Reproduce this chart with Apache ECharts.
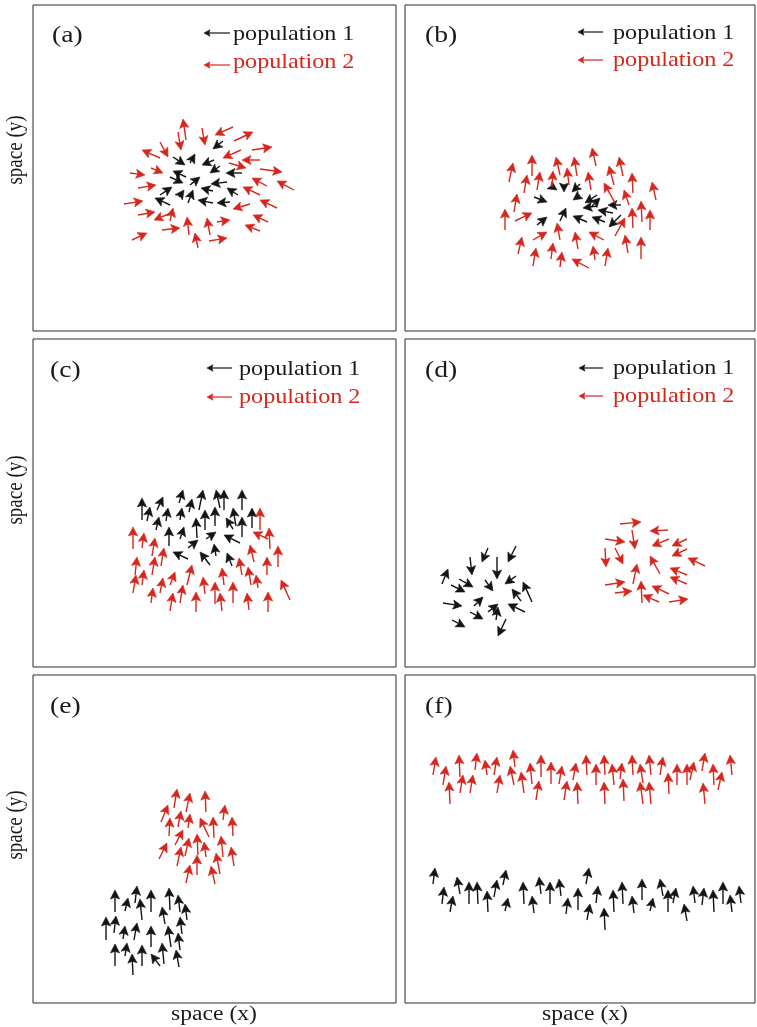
<!DOCTYPE html>
<html>
<head>
<meta charset="utf-8">
<script src="https://cdn.jsdelivr.net/npm/echarts@6/dist/echarts.min.js"></script>
<style>
  html, body { margin: 0; padding: 0; background: #ffffff; }
  #chart { width: 757px; height: 1027px; }
</style>
</head>
<body>
<div id="chart"></div>
<script>
// Each arrow: [headX, headY, dX, dY] in panel space units (y grows downward);
// the tail sits at (headX - dX, headY - dY).

const panelLabels = ['(a)', '(b)', '(c)', '(d)', '(e)', '(f)'];
const legendLabels = ['population 1', 'population 2'];
const xAxisTitle = 'space (x)';
const yAxisTitle = 'space (y)';

// (a) population 1 converging, population 2 spreading outwards
const a_pop1 = [
  [180,144,-10,8],[162,149,5,-9],[152,160,12,8],[169,160,-12,5],[140,166,-13,-6],
  [177,168,-10,7],[193,168,-16,0],[150,178,13,6],[167,172,10,-8],[178,179,-16,2],
  [139,182,12,-8],[151,185,5,-7],[160,185,5,-13],[168,183,-12,-3],[194,183,-11,-7],
  [122,193,-15,-7],[165,195,-15,-3],[184,198,-13,1]
];
const a_pop2 = [
  [150,114,-3,-21],[172,140,3,17],[182,130,-18,8],[220,127,19,-9],[148,145,3,18],
  [109,145,-18,-8],[135,152,8,15],[239,142,20,-3],[190,153,-18,8],[209,155,-18,0],
  [213,163,17,5],[249,167,22,3],[112,170,15,2],[130,168,12,5],[219,173,-15,-8],
  [244,176,-17,-9],[123,180,18,-3],[210,182,-17,-8],[110,196,19,-3],[140,203,3,-13],
  [122,207,17,-3],[121,215,-17,7],[154,212,-2,-18],[174,213,-3,-17],[200,204,-17,5],
  [220,210,-15,-7],[197,215,13,-2],[212,220,-15,-6],[147,223,18,-2],[162,228,-3,-15],
  [114,228,15,-7],[194,233,18,-3],[227,195,-17,-8]
];

// (b)
const b_pop1 = [
  [152,185,6,4],[159,187,0,6],[167,187,-8,8],[142,197,13,5],[168,195,-7,5],
  [180,198,-12,8],[161,203,6,-13],[178,203,-14,2],[195,193,8,-8],[203,200,-13,0],
  [193,205,-15,-3],[142,212,10,-8],[168,211,-14,-6],[187,212,-13,-5],[204,222,-12,12]
];
const b_pop2 = [
  [108,158,4,-19],[127,150,0,-21],[122,170,3,-18],[135,167,3,-18],[151,152,-4,-18],
  [148,166,1,-16],[162,163,-2,-17],[169,152,-3,-19],[187,143,-4,-18],[183,167,-3,-18],
  [204,161,-5,-19],[214,152,-4,-19],[227,168,-1,-20],[247,177,-4,-18],[112,189,3,-18],
  [100,204,0,-21],[199,178,-11,-20],[219,185,-5,-15],[236,196,-1,-21],[227,203,-1,-20],
  [245,205,0,-20],[127,208,17,-8],[152,218,-3,-17],[142,227,14,-8],[117,232,4,-17],
  [170,227,-3,-17],[184,227,-15,-8],[220,213,10,-18],[220,230,-3,-18],[148,238,2,-16],
  [131,243,3,-18],[188,241,-2,-14],[203,243,3,-18],[236,232,0,-22],[157,247,2,-15],
  [167,254,-17,-9]
];

// (c)
const c_pop1 = [
  [109,159,0,-22],[117,168,3,-14],[130,158,6,-13],[150,151,4,-13],[159,160,3,-13],
  [170,151,4,-20],[183,151,-4,-18],[191,151,0,-20],[209,151,0,-20],[126,178,3,-13],
  [135,169,2,-13],[149,169,2,-12],[172,171,0,-20],[182,168,0,-19],[200,169,-3,-18],
  [219,169,0,-20],[163,179,-1,-20],[193,179,-7,-11],[209,178,0,-20],[136,188,0,-19],
  [151,188,4,-12],[183,193,10,-7],[191,196,-16,-8],[165,201,10,-8],[181,205,-2,-12],
  [140,213,-15,-7],[167,213,-10,-13],[194,214,-5,-13]
];
const c_pop2 = [
  [100,188,0,-22],[111,194,2,-15],[122,199,3,-18],[131,209,3,-18],[104,218,2,-18],
  [122,218,3,-18],[111,231,2,-15],[103,236,3,-18],[120,249,2,-15],[130,239,3,-15],
  [142,233,5,-13],[159,226,5,-20],[150,246,3,-18],[140,254,3,-18],[170,238,-2,-17],
  [163,253,0,-20],[182,243,0,-22],[189,229,-2,-17],[187,254,-2,-18],[200,243,0,-21],
  [206,219,-3,-17],[215,228,-3,-18],[223,236,-2,-13],[217,206,-4,-17],[214,254,-2,-17],
  [234,218,0,-18],[235,253,0,-20],[248,241,-9,-20],[227,169,0,-22],[236,189,-1,-21],
  [245,207,0,-21],[220,193,-15,-7]
];

// (d)
const d_pop1 = [
  [43,230,6,-15],[77,223,-6,14],[103,223,-8,16],[67,236,2,18],[92,240,0,22],
  [68,248,14,8],[60,253,14,7],[88,252,8,11],[100,245,-11,8],[118,243,-9,-20],
  [107,250,-9,-12],[78,258,9,-9],[57,267,19,3],[93,265,10,-8],[93,268,2,-13],
  [103,265,-17,-8],[78,280,13,7],[60,288,13,7],[93,297,-8,17]
];
const d_pop2 = [
  [236,183,21,-2],[245,192,-18,1],[220,203,20,3],[230,210,3,19],[247,207,-17,7],
  [267,207,-15,7],[201,228,1,19],[218,225,8,16],[267,217,-15,7],[245,217,-10,-18],
  [232,225,4,-20],[283,219,-17,-8],[265,229,-17,-7],[265,238,-17,-7],[220,243,20,-3],
  [236,242,-1,-22],[227,252,17,-2],[247,247,-17,-8],[238,256,-16,-7],[283,260,19,-3]
];

// (e)
const e_pop1 = [
  [82,215,0,-22],[104,211,2,-17],[118,215,0,-22],[136,213,-1,-22],[95,223,3,-13],
  [107,224,-2,-21],[145,220,-2,-17],[152,229,-2,-16],[129,232,-3,-17],[73,242,0,-23],
  [83,241,2,-17],[92,251,2,-13],[104,248,3,-17],[118,251,0,-21],[135,251,-3,-21],
  [147,242,-2,-17],[145,258,-2,-17],[82,269,0,-22],[94,268,2,-13],[109,270,0,-21],
  [99,279,-1,-21],[118,279,-9,-12],[129,268,-2,-21],[143,275,-3,-17]
];
const e_pop2 = [
  [144,114,3,-19],[157,118,4,-19],[172,116,-1,-21],[135,130,7,-17],[148,136,3,-16],
  [157,139,2,-14],[167,143,-9,-19],[180,142,-1,-21],[192,130,2,-15],[199,142,-1,-19],
  [137,143,1,-18],[150,155,8,-15],[156,163,4,-18],[164,159,-1,-21],[171,167,-2,-15],
  [188,161,-2,-21],[134,168,8,-16],[148,172,4,-19],[164,180,0,-20],[183,178,-4,-21],
  [198,172,-3,-19],[157,190,4,-18],[178,191,-4,-18]
];

// (f)
const f_pop1 = [
  [30,193,2,-16],[39,212,2,-17],[48,221,3,-16],[52,202,-3,-17],[64,207,0,-22],
  [72,207,-1,-22],[82,216,-1,-21],[92,205,3,-17],[101,195,3,-15],[103,223,3,-13],
  [118,207,-1,-22],[127,221,-2,-17],[134,202,-2,-17],[145,207,0,-22],[154,204,-2,-17],
  [163,223,2,-16],[173,213,0,-22],[184,193,3,-16],[193,211,2,-17],[185,229,3,-16],
  [199,233,-1,-22],[208,215,-1,-22],[217,207,-1,-22],[227,221,-2,-17],[237,204,0,-21],
  [248,223,3,-13],[255,204,-3,-17],[263,215,0,-22],[271,213,3,-15],[279,229,-3,-17],
  [288,211,-2,-17],[299,213,2,-17],[308,215,-1,-22],[318,207,0,-22],[325,220,-2,-17],
  [334,211,-2,-17]
];
const f_pop2 = [
  [31,82,3,-18],[41,91,3,-19],[44,107,-1,-22],[54,80,-1,-22],[58,100,3,-18],
  [68,100,3,-18],[72,78,2,-17],[80,85,-2,-15],[92,82,3,-18],[95,100,3,-18],
  [108,75,-2,-17],[105,91,-4,-19],[116,97,-3,-21],[125,88,-2,-21],[136,80,0,-22],
  [134,106,3,-19],[146,87,0,-22],[157,91,3,-18],[162,106,3,-19],[171,88,3,-17],
  [172,107,-1,-22],[181,80,-1,-20],[191,89,0,-21],[199,80,-1,-20],[199,107,-1,-22],
  [207,89,-2,-21],[217,88,2,-16],[218,104,-1,-22],[227,80,-1,-20],[235,89,-3,-19],
  [235,107,-3,-22],[244,80,-2,-20],[244,107,-2,-22],[258,82,3,-18],[263,98,-1,-21],
  [272,89,0,-21],[282,89,0,-21],[289,87,4,-18],[300,78,3,-18],[298,108,-2,-21],
  [308,89,-1,-21],[317,97,4,-18],[325,80,-2,-20]
];

const COLOR_1 = '#141414';
const COLOR_2 = '#d6271e';
const SERIF = '"Liberation Serif", "DejaVu Serif", serif';

// panel frames, legend placement
const panels = [
  { left: 33,  top: 5,   width: 363, height: 326, pop1: a_pop1, pop2: a_pop2,
    tag: [52, 36],  legend: { tx: 233, ty: [34, 62], ax: [204, 230], ay: [33, 65] } },
  { left: 405, top: 5,   width: 350, height: 326, pop1: b_pop1, pop2: b_pop2,
    tag: [425, 36], legend: { tx: 613, ty: [33, 60], ax: [578, 603], ay: [32, 60] } },
  { left: 33,  top: 339, width: 363, height: 328, pop1: c_pop1, pop2: c_pop2,
    tag: [50, 371], legend: { tx: 239, ty: [369, 397], ax: [207, 232], ay: [368, 397] } },
  { left: 405, top: 339, width: 350, height: 328, pop1: d_pop1, pop2: d_pop2,
    tag: [425, 371], legend: { tx: 613, ty: [368, 396], ax: [579, 603], ay: [368, 396] } },
  { left: 33,  top: 675, width: 363, height: 328, pop1: e_pop1, pop2: e_pop2,
    tag: [50, 707], legend: null },
  { left: 405, top: 675, width: 350, height: 328, pop1: f_pop1, pop2: f_pop2,
    tag: [425, 707], legend: null }
];

function arrowShapes(tail, head, color, headLen, headHalf, lw) {
  const dx = head[0] - tail[0], dy = head[1] - tail[1];
  const len = Math.hypot(dx, dy) || 1;
  const ux = dx / len, uy = dy / len;
  const bx = head[0] - ux * headLen, by = head[1] - uy * headLen;
  return [
    { type: 'line', shape: { x1: tail[0], y1: tail[1], x2: bx + ux * 2, y2: by + uy * 2 },
      style: { stroke: color, lineWidth: lw } },
    { type: 'polygon',
      shape: { points: [
        [head[0], head[1]],
        [bx - uy * headHalf, by + ux * headHalf],
        [head[0] - ux * headLen * 0.8, head[1] - uy * headLen * 0.8],
        [bx + uy * headHalf, by - ux * headHalf]
      ] },
      style: { fill: color, stroke: color, lineWidth: 0.6, lineJoin: 'miter' } }
  ];
}

function makeRenderer(color) {
  return function (params, api) {
    const hx = api.value(0), hy = api.value(1);
    const head = api.coord([hx, hy]);
    const tail = api.coord([hx - api.value(2), hy - api.value(3)]);
    return { type: 'group', children: arrowShapes(tail, head, color, 9, 4.6, 1.4) };
  };
}

const grid = [], xAxis = [], yAxis = [], series = [], graphic = [];

panels.forEach((p, i) => {
  grid.push({ left: p.left, top: p.top, width: p.width, height: p.height,
              show: true, borderColor: '#2b2b2b', borderWidth: 1, backgroundColor: 'transparent' });
  xAxis.push({ gridIndex: i, type: 'value', min: 0, max: p.width, show: false });
  yAxis.push({ gridIndex: i, type: 'value', min: 0, max: p.height, inverse: true, show: false });

  [[p.pop1, COLOR_1], [p.pop2, COLOR_2]].forEach(([data, color], k) => {
    series.push({
      type: 'custom',
      name: legendLabels[k],
      xAxisIndex: i, yAxisIndex: i,
      dimensions: ['x', 'y', 'dx', 'dy'],
      encode: { x: 0, y: 1 },
      renderItem: makeRenderer(color),
      data: data,
      silent: true,
      animation: false
    });
  });

  // panel tag
  graphic.push({
    type: 'text', x: p.tag[0], y: p.tag[1], scaleX: 1.15, silent: true,
    style: { text: panelLabels[i], fill: '#1a1a1a', font: '24px ' + SERIF,
             textAlign: 'left', textVerticalAlign: 'middle' }
  });

  if (p.legend) {
    const L = p.legend;
    [COLOR_1, COLOR_2].forEach((color, k) => {
      graphic.push({
        type: 'group', silent: true,
        children: arrowShapes([L.ax[1], L.ay[k]], [L.ax[0], L.ay[k]], color, 6, 3.2, 1.2)
      });
      graphic.push({
        type: 'text', x: L.tx, y: L.ty[k], scaleX: 1.15, silent: true,
        style: { text: legendLabels[k], fill: color === COLOR_1 ? '#1a1a1a' : COLOR_2,
                 font: '21px ' + SERIF, textAlign: 'left', textVerticalAlign: 'middle' }
      });
    });
  }
});

// axis titles
[150, 490, 825].forEach(cy => {
  graphic.push({
    type: 'text', x: 16, y: cy, rotation: Math.PI / 2, scaleY: 1.2, silent: true,
    style: { text: yAxisTitle, fill: '#1a1a1a', font: '19px ' + SERIF,
             textAlign: 'center', textVerticalAlign: 'middle' }
  });
});
[214, 585].forEach(cx => {
  graphic.push({
    type: 'text', x: cx, y: 1015, scaleX: 1.18, silent: true,
    style: { text: xAxisTitle, fill: '#1a1a1a', font: '20px ' + SERIF,
             textAlign: 'center', textVerticalAlign: 'middle' }
  });
});

const chart = echarts.init(document.getElementById('chart'), null, { renderer: 'canvas' });
chart.setOption({
  animation: false,
  backgroundColor: '#ffffff',
  grid, xAxis, yAxis, series, graphic
});
</script>
</body>
</html>
